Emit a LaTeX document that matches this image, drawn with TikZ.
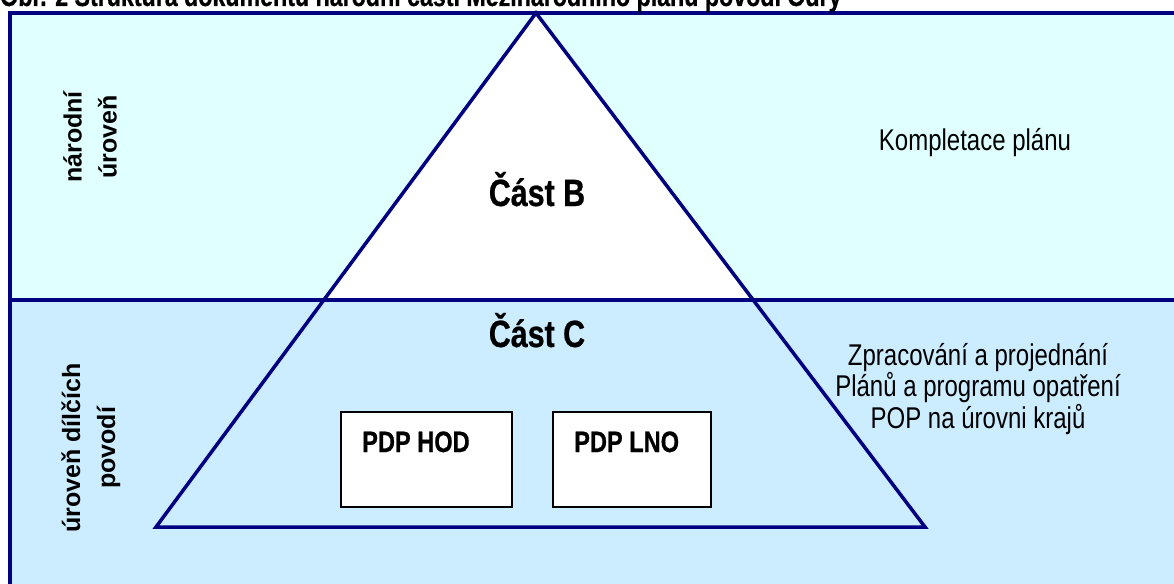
\documentclass[tikz,border=0pt]{standalone}
\usepackage{fontspec}
\setmainfont{Liberation Sans}
\newfontfamily\narrowfont[FakeStretch=0.8, BoldFeatures={FakeBold=0.6}]{Liberation Sans}
\definecolor{topband}{RGB}{224,255,255}
\definecolor{botband}{RGB}{204,236,255}
\definecolor{navyline}{RGB}{0,0,128}
\tikzset{
  frameline/.style={draw=navyline, line width=4pt},
  triline/.style={draw=navyline, line width=3.5pt, line join=miter},
  pdpbox/.style={draw=black, line width=1.3pt, fill=white, minimum width=#1, minimum height=95pt, inner sep=0pt},
  pdplabel/.style={anchor=base west, inner sep=0pt, font=\narrowfont\fontsize{29.5}{33}\selectfont\bfseries},
  levellabel/.style={rotate=90, align=center, inner sep=0pt, font=\fontsize{25}{35}\selectfont\bfseries},
  partlabel/.style={anchor=base, inner sep=0pt, font=\narrowfont\fontsize{38}{44}\selectfont\bfseries},
  desclabel/.style={align=center, inner sep=0pt, font=\narrowfont\fontsize{30}{29.5}\selectfont},
}
\begin{document}
\begin{tikzpicture}[x=1pt,y=-1pt]
\useasboundingbox (0,0) rectangle (1174,583);
% bands
\fill[topband] (10,13) rectangle (1190,300);
\fill[botband] (10,300) rectangle (1190,600);
% triangle
\coordinate (apex) at (536,13);
\coordinate (bl) at (156,527);
\coordinate (br) at (925,527);
\begin{scope}
  \clip (0,0) rectangle (1174,300);
  \fill[white] (apex) -- (bl) -- (br) -- cycle;
\end{scope}
\draw[triline] (apex) -- (bl) -- (br) -- cycle;
% frame
\coordinate (tl) at (10,13);
\coordinate (tr) at (1190,13);
\coordinate (bot) at (10,600);
\coordinate (ml) at (10,300);
\coordinate (mr) at (1190,300);
\draw[frameline] (tr) -- (tl) -- (bot);
\draw[frameline] (ml) -- (mr);
% title (cut off at top as in the reference)
\node[anchor=base west, inner sep=0pt, font=\narrowfont\fontsize{29}{33}\selectfont\bfseries] (title) at (0,6)
  {Obr. 2 Struktura dokumentu národní části Mezinárodního plánu povodí Odry};
% level labels
\node[levellabel] (narodni) at (90,137) {národní\\úroveň};
\node[levellabel] (dilci) at (91,448) {úroveň dílčích\\povodí};
% parts
\node[partlabel] (castB) at (537,206) {Část B};
\node[partlabel] (castC) at (537,347) {Část C};
% boxes
\node[pdpbox=171pt] (hod) at (426.5,459.5) {};
\node[pdpbox=158pt] (lno) at (632,459.5) {};
\node[pdplabel] (hodt) at (362,452) {PDP HOD};
\node[pdplabel] (lnot) at (574,452) {PDP LNO};
% descriptions
\node[desclabel] (kompl) at (975,143) {Kompletace plánu};
\node[desclabel] (zprac) at (978,389) {Zpracování a projednání\\Plánů a programu opatření\\POP na úrovni krajů};
\end{tikzpicture}
\end{document}
